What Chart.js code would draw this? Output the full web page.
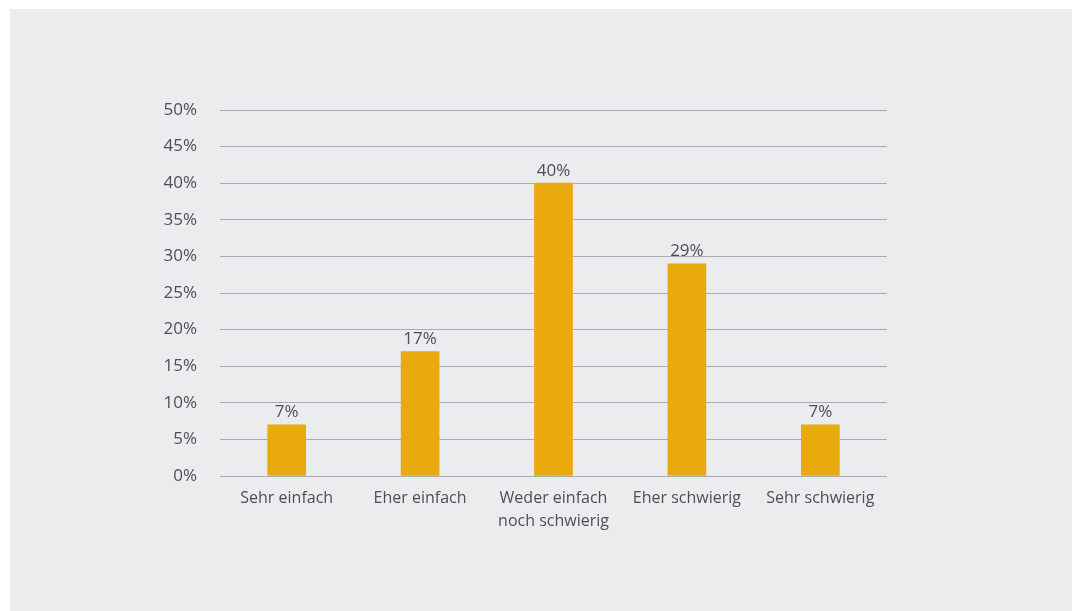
<!DOCTYPE html>
<html>
<head>
<meta charset="utf-8">
<script src="https://cdn.jsdelivr.net/npm/chart.js@4"></script>
<style>
  html, body { margin: 0; padding: 0; background: #ffffff; }
  #panel {
    position: absolute;
    left: 10px;
    top: 9px;
    width: 1062px;
    height: 602px;
    background: #ebecee;
  }
  #chart { display: block; }
</style>
</head>
<body>
<div id="panel">
  <canvas id="chart" width="1062" height="602"></canvas>
</div>
<script>
const categories = [
  "Sehr einfach",
  "Eher einfach",
  ["Weder einfach", "noch schwierig"],
  "Eher schwierig",
  "Sehr schwierig",
];
const shares = [7, 17, 40, 29, 7];
const yTicks = { min: 0, max: 50, step: 5 };

const textColor = "#4b5056";
const fontFamily = "'Open Sans', 'Noto Sans', sans-serif";

// writes the percentage above each bar
const barValues = {
  id: "barValues",
  afterDatasetsDraw(chart) {
    const ctx = chart.ctx;
    const meta = chart.getDatasetMeta(0);
    ctx.save();
    ctx.fillStyle = textColor;
    ctx.font = "17px " + fontFamily;
    ctx.textAlign = "center";
    ctx.textBaseline = "bottom";
    meta.data.forEach((bar, i) => {
      ctx.fillText(shares[i] + "%", bar.x, bar.y - 4);
    });
    ctx.restore();
  },
};

new Chart(document.getElementById("chart"), {
  type: "bar",
  data: {
    labels: categories,
    datasets: [
      {
        data: shares,
        backgroundColor: "#e8aa0c",
        borderWidth: 0,
        barThickness: 38,
      },
    ],
  },
  options: {
    responsive: false,
    animation: false,
    layout: {
      padding: { left: 0, top: 101, right: 185, bottom: 0 },
    },
    plugins: {
      legend: { display: false },
      tooltip: { enabled: false },
    },
    scales: {
      x: {
        grid: { display: false, drawTicks: false },
        border: { display: false },
        ticks: {
          color: textColor,
          font: { family: fontFamily, size: 16, lineHeight: 1.44 },
          padding: 11,
          maxRotation: 0,
        },
        afterFit(scale) {
          scale.height = 135;
        },
      },
      y: {
        min: yTicks.min,
        max: yTicks.max,
        grid: { color: "#a9abae", lineWidth: 1, drawTicks: false },
        border: { display: false },
        ticks: {
          stepSize: yTicks.step,
          color: textColor,
          font: { family: fontFamily, size: 17 },
          padding: 23,
          callback: (v) => v + "%",
        },
        afterFit(scale) {
          scale.width = 210;
        },
      },
    },
  },
  plugins: [barValues],
});
</script>
</body>
</html>
